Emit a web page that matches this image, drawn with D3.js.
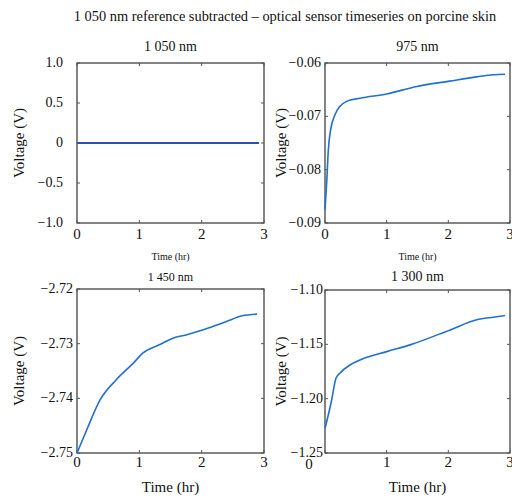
<!DOCTYPE html>
<html>
<head>
<meta charset="utf-8">
<script src="https://cdn.jsdelivr.net/npm/d3@7"></script>
<style>
body { margin: 0; background: #fff; }
text { font-family: "Liberation Serif", "Times New Roman", serif; fill: #111; }
</style>
</head>
<body>
<svg width="512" height="498"></svg>
<script>
var mainTitle = "1 050 nm reference subtracted \u2013 optical sensor timeseries on porcine skin";

var titles = ["1 050 nm", "975 nm", "1 450 nm", "1 300 nm"];

// time (hr) and voltage (V)
var time1050 = [0, 2.92];
var volt1050 = [0, 0];

var time975 = [0, 0.027, 0.054, 0.092, 0.162, 0.243, 0.35, 0.567, 1.0, 1.49, 2.02, 2.46, 2.73, 2.92];
var volt975 = [-0.0875, -0.0825, -0.0763, -0.0725, -0.0697, -0.0681, -0.0672, -0.0666, -0.0658, -0.0644, -0.0634, -0.0626, -0.0622, -0.0621];

var time1450 = [0, 0.155, 0.37, 0.63, 0.9, 1.06, 1.32, 1.54, 1.75, 1.96, 2.17, 2.39, 2.65, 2.89];
var volt1450 = [-2.75, -2.7458, -2.7403, -2.7366, -2.7336, -2.7317, -2.7302, -2.729, -2.7284, -2.7277, -2.7269, -2.726, -2.7249, -2.7246];

var time1300 = [0, 0.108, 0.178, 0.24, 0.405, 0.567, 1.0, 1.38, 2.03, 2.46, 2.73, 2.92];
var volt1300 = [-1.2275, -1.2012, -1.1812, -1.1766, -1.169, -1.1644, -1.1567, -1.1505, -1.1367, -1.1274, -1.125, -1.1235];

var xTicks = [0, 1, 2, 3];
var yTicks1050 = [1.0, 0.5, 0, -0.5, -1.0];
var yTicks975 = [-0.06, -0.07, -0.08, -0.09];
var yTicks1450 = [-2.72, -2.73, -2.74, -2.75];
var yTicks1300 = [-1.10, -1.15, -1.20, -1.25];

var svg = d3.select("svg");

svg.append("text")
	.attr("x", 285).attr("y", 21)
	.attr("text-anchor", "middle")
	.style("font-size", "14.4px")
	.text(mainTitle);

var minus = function(s) { return s.replace("-", "\u2212"); };

var panels = [
	{ t: time1050, v: volt1050, yd: [-1, 1], yt: yTicks1050, fmt: function(d) { return d === 0 ? "0" : minus(d3.format(".1f")(d)); },
	  x0: 77, x1: 264, y0: 63, y1: 223, color: "#2a50b0", width: 1.8, title: titles[0], titleY: 51, titleSize: 14, xlabY: 260, xlabSize: 10, ylabX: 24, lab: 63, tickY: 16 },
	{ t: time975, v: volt975, yd: [-0.09, -0.06], yt: yTicks975, fmt: d3.format(".2f"),
	  x0: 325, x1: 510, y0: 63, y1: 223, color: "#1f70d2", width: 1.6, title: titles[1], titleY: 51, titleSize: 14, xlabY: 260, xlabSize: 10, ylabX: 286, lab: 321, tickY: 16 },
	{ t: time1450, v: volt1450, yd: [-2.75, -2.72], yt: yTicks1450, fmt: function(d) { return minus(d3.format(".2f")(d)); },
	  x0: 77, x1: 264, y0: 289, y1: 453, color: "#1f70d2", width: 1.6, title: titles[2], titleY: 281, titleSize: 12, xlabY: 492, xlabSize: 15, ylabX: 24, lab: 73, tickY: 14 },
	{ t: time1300, v: volt1300, yd: [-1.25, -1.10], yt: yTicks1300, fmt: function(d) { return minus(d3.format(".2f")(d)); },
	  x0: 325, x1: 510, y0: 290, y1: 453, color: "#1f70d2", width: 1.6, title: titles[3], titleY: 281, titleSize: 14, xlabY: 492, xlabSize: 15, ylabX: 286, lab: 323, tickY: 14, shiftZero: true }
];

panels.forEach(function(p) {
	var x = d3.scaleLinear().domain([0, 3]).range([p.x0, p.x1]);
	var y = d3.scaleLinear().domain(p.yd).range([p.y1, p.y0]);
	var g = svg.append("g");

	// box
	g.append("rect")
		.attr("x", p.x0).attr("y", p.y0)
		.attr("width", p.x1 - p.x0).attr("height", p.y1 - p.y0)
		.attr("fill", "none").attr("stroke", "#333").attr("stroke-width", 1.2);

	// inward ticks on all sides
	xTicks.forEach(function(d) {
		g.append("line").attr("x1", x(d)).attr("x2", x(d)).attr("y1", p.y1).attr("y2", p.y1 - 3).attr("stroke", "#555");
		g.append("line").attr("x1", x(d)).attr("x2", x(d)).attr("y1", p.y0).attr("y2", p.y0 + 3).attr("stroke", "#555");
		var odd = p.shiftZero && d === 0;
		g.append("text")
			.attr("x", x(d) - (odd ? 16 : 0))
			.attr("y", p.y1 + p.tickY + (odd ? 2 : 0))
			.attr("text-anchor", "middle")
			.style("font-size", "15px")
			.text(d);
	});
	p.yt.forEach(function(d) {
		g.append("line").attr("x1", p.x0).attr("x2", p.x0 + 3).attr("y1", y(d)).attr("y2", y(d)).attr("stroke", "#555");
		g.append("line").attr("x1", p.x1).attr("x2", p.x1 - 3).attr("y1", y(d)).attr("y2", y(d)).attr("stroke", "#555");
		g.append("text")
			.attr("x", p.lab).attr("y", y(d) + 4)
			.attr("text-anchor", "end")
			.style("font-size", "14px")
			.text(p.fmt(d));
	});

	var line = d3.line()
		.x(function(d) { return x(d[0]); })
		.y(function(d) { return y(d[1]); })
		.curve(d3.curveMonotoneX);

	g.append("path")
		.datum(d3.zip(p.t, p.v))
		.attr("d", line)
		.attr("fill", "none")
		.attr("stroke", p.color)
		.attr("stroke-width", p.width);

	g.append("text")
		.attr("x", (p.x0 + p.x1) / 2).attr("y", p.titleY)
		.attr("text-anchor", "middle")
		.style("font-size", p.titleSize + "px")
		.text(p.title);

	g.append("text")
		.attr("x", (p.x0 + p.x1) / 2).attr("y", p.xlabY)
		.attr("text-anchor", "middle")
		.style("font-size", p.xlabSize + "px")
		.text("Time (hr)");

	g.append("text")
		.attr("transform", "translate(" + p.ylabX + "," + ((p.y0 + p.y1) / 2) + ") rotate(-90)")
		.attr("text-anchor", "middle")
		.style("font-size", "15px")
		.text("Voltage (V)");
});
</script>
</body>
</html>
